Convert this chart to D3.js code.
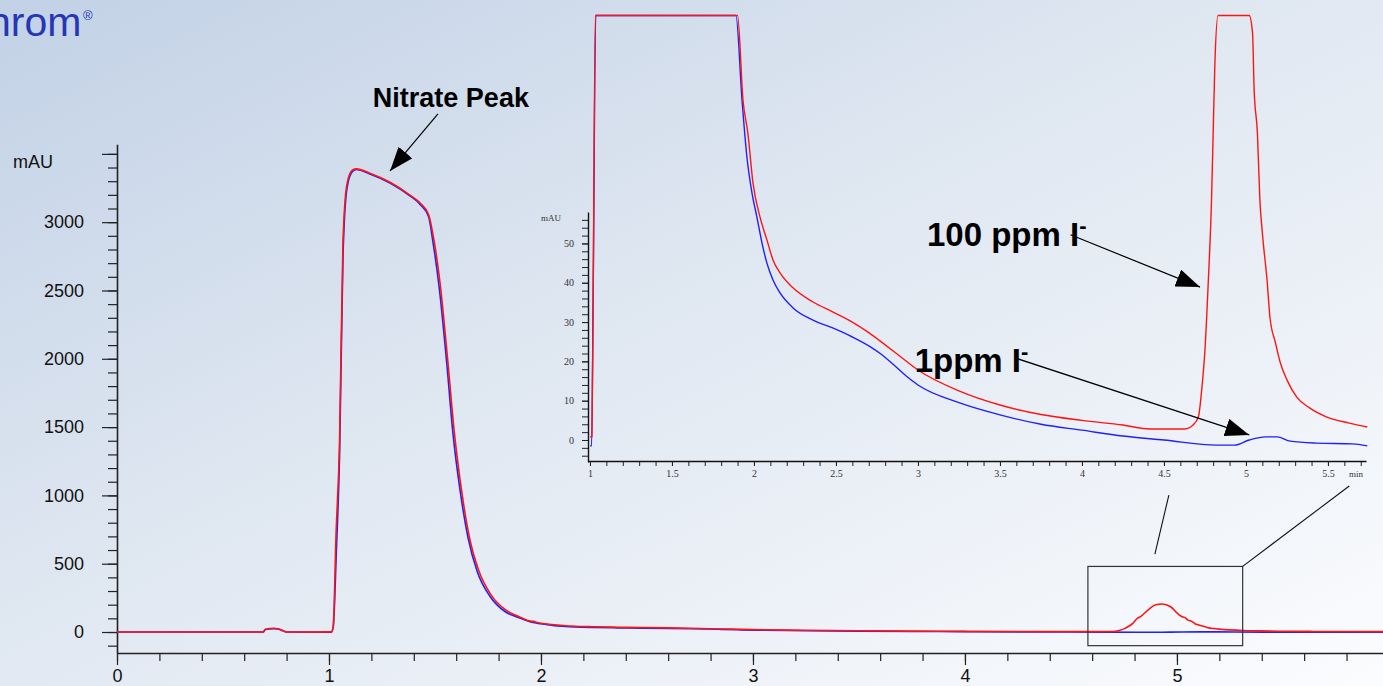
<!DOCTYPE html>
<html>
<head>
<meta charset="utf-8">
<script src="https://cdn.jsdelivr.net/npm/d3@7"></script>
<style>
  html, body { margin: 0; padding: 0; overflow: hidden; }
  svg { display: block; font-family: "Liberation Sans", Arial, sans-serif; }
</style>
</head>
<body>
<svg id="chart"></svg>
<script>
var width = 1383;
var height = 686;

// ---- data (time in min, signal in mAU) ----
var blueTrace = [
  [0, 0], [0.69, 0], [0.70, 18], [0.74, 24], [0.76, 22], [0.79, 4], [0.80, 0],
  [1.00, -1.5], [1.01, -1.5], [1.02, 40], [1.035, 600], [1.05, 1300], [1.066, 2750],
  [1.085, 3250], [1.11, 3370], [1.13, 3385], [1.19, 3355], [1.29, 3285], [1.38, 3195],
  [1.43, 3130], [1.47, 3040], [1.49, 2860], [1.52, 2520], [1.556, 1960], [1.585, 1450],
  [1.62, 1020], [1.656, 690], [1.70, 440], [1.76, 260], [1.83, 150], [1.89, 108],
  [1.927, 86.5], [1.957, 72], [1.988, 62.8], [2.018, 56.7], [2.049, 50.1], [2.079, 45],
  [2.116, 40.7], [2.159, 37.4], [2.238, 33.6], [2.36, 30.5], [2.48, 28.5], [2.60, 26.2],
  [2.71, 23.7], [2.77, 22.0], [2.85, 19.2], [2.93, 16.2], [3.0, 14], [3.25, 9.5], [3.5, 6.4],
  [3.75, 4], [4.0, 2.5], [4.25, 1], [4.5, 0], [4.82, -1.3], [4.93, -1.3], [5.02, 0], [5.12, 0.8],
  [5.19, 0.8], [5.27, -0.3], [5.43, -0.8], [5.65, -1], [5.74, -1.5], [6.0, -1.5]
];
var redTrace = [
  [0, 0], [0.69, 0], [0.70, 20], [0.74, 27], [0.76, 24], [0.79, 5], [0.80, 0],
  [1.00, 0.8], [1.012, 0.8], [1.02, 40], [1.033, 700], [1.05, 1400], [1.066, 2850],
  [1.085, 3280], [1.11, 3380], [1.13, 3390], [1.19, 3360], [1.29, 3290], [1.38, 3200],
  [1.43, 3140], [1.47, 3055], [1.495, 2870], [1.525, 2540], [1.56, 1990], [1.59, 1480],
  [1.625, 1040], [1.66, 710], [1.705, 455], [1.765, 270], [1.835, 160], [1.90, 110],
  [1.933, 86.5], [1.963, 78], [1.994, 65.4], [2.037, 56.7], [2.079, 50.9], [2.116, 45.8],
  [2.159, 42.5], [2.238, 38.7], [2.36, 35.1], [2.48, 32.6], [2.60, 30], [2.70, 27.3],
  [2.80, 24.2], [2.9, 21], [3.0, 17.8], [3.25, 12.5], [3.5, 8.9], [3.75, 6.5], [4.0, 5], [4.25, 3.8],
  [4.415, 2.8], [4.628, 2.8], [4.677, 3.8], [4.71, 5.9], [4.73, 12.7], [4.75, 22.9],
  [4.77, 40], [4.79, 61], [4.80, 78], [4.81, 95], [4.83, 115], [4.87, 170], [4.90, 200],
  [4.93, 205], [4.97, 185], [5.0, 140], [5.02, 115], [5.04, 103.6], [5.05, 89], [5.07, 78],
  [5.085, 61], [5.10, 52.7], [5.13, 40], [5.146, 31.3], [5.18, 24.7], [5.21, 19.6],
  [5.25, 15.3], [5.31, 10.9], [5.39, 8.1], [5.49, 5.9], [5.63, 4.3], [5.74, 3.3], [6.0, 2.5]
];

var mainYMajor = [0, 500, 1000, 1500, 2000, 2500, 3000, 3500];
var mainXMajor = [0, 1, 2, 3, 4, 5];
var insetYMajor = [0, 10, 20, 30, 40, 50];
var insetXMajor = [1, 1.5, 2, 2.5, 3, 3.5, 4, 4.5, 5, 5.5];
var insetCap = 108; // detector display limit of the inset (flat tops)
var zoomBox = { t0: 4.58, t1: 5.31, v0: -100, v1: 480 };

var svg = d3.select("#chart").attr("width", width).attr("height", height);
var defs = svg.append("defs");

// background
var grad = defs.append("linearGradient").attr("id", "bg")
  .attr("x1", 0).attr("y1", 0).attr("x2", 1).attr("y2", 1);
grad.append("stop").attr("offset", "0").attr("stop-color", "#c2d1e6");
grad.append("stop").attr("offset", "0.45").attr("stop-color", "#dfe7f1");
grad.append("stop").attr("offset", "1").attr("stop-color", "#fbfcfe");
svg.append("rect").attr("width", width).attr("height", height).attr("fill", "url(#bg)");

// arrow head
defs.append("marker").attr("id", "head")
  .attr("markerUnits", "userSpaceOnUse")
  .attr("viewBox", "0 -9 24 18")
  .attr("refX", 24).attr("refY", 0)
  .attr("markerWidth", 24).attr("markerHeight", 18)
  .attr("orient", "auto")
  .append("path").attr("d", "M0,-9L24,0L0,9Z").attr("fill", "#000");

// logo fragment (cut at the left edge like the slide)
svg.append("text").attr("x", -12).attr("y", 36)
  .attr("font-size", 41).attr("fill", "#2636b4")
  .text("hrom");
svg.append("text").attr("x", 83).attr("y", 20)
  .attr("font-size", 13).attr("fill", "#2636b4").text("®");

// ---- main chart ----
var x = d3.scaleLinear().domain([0, 5.972]).range([117, 1383]);
var y = d3.scaleLinear().domain([-150, 3570]).range([652.5, 144.3]);

var line = d3.line()
  .curve(d3.curveMonotoneX)
  .x(function(d) { return x(d[0]); })
  .y(function(d) { return y(d[1]); });

// minor ticks
svg.append("g").attr("transform", "translate(117,0)")
  .call(d3.axisLeft(y).tickValues(d3.range(-100, 3501, 100)).tickSize(9).tickFormat(""))
  .call(function(g) { g.select(".domain").remove(); });
svg.append("g").attr("transform", "translate(0,653)")
  .call(d3.axisBottom(x).tickValues(d3.range(0, 5.9, 0.2)).tickSize(8).tickFormat(""))
  .call(function(g) { g.select(".domain").remove(); });

var yAxis = svg.append("g").attr("transform", "translate(117,0)")
  .call(d3.axisLeft(y).tickValues(mainYMajor).tickSize(15).tickSizeOuter(0).tickPadding(18)
    .tickFormat(function(d) { return d === 3500 ? "" : d; }));
var xAxis = svg.append("g").attr("transform", "translate(0,653)")
  .call(d3.axisBottom(x).tickValues(mainXMajor).tickSize(12).tickSizeOuter(0).tickPadding(4)
    .tickFormat(d3.format("d")));

svg.selectAll(".tick line").attr("stroke", "#222").attr("stroke-width", 1.2);
[yAxis, xAxis].forEach(function(a) {
  a.select(".domain").attr("stroke", "#222").attr("stroke-width", 1.6);
  a.selectAll("text").attr("font-size", 18).attr("fill", "#111")
    .attr("font-family", "Liberation Sans, Arial, sans-serif");
});
svg.append("text").attr("x", 13).attr("y", 168).attr("font-size", 18).attr("fill", "#111").text("mAU");

svg.append("path").datum(blueTrace).attr("d", line)
  .attr("fill", "none").attr("stroke", "#1f1fff").attr("stroke-width", 1.6);
svg.append("path").datum(redTrace).attr("d", line)
  .attr("fill", "none").attr("stroke", "#ff1414").attr("stroke-width", 1.6);

// zoom box
svg.append("rect")
  .attr("x", x(zoomBox.t0)).attr("y", y(zoomBox.v1))
  .attr("width", x(zoomBox.t1) - x(zoomBox.t0))
  .attr("height", y(zoomBox.v0) - y(zoomBox.v1))
  .attr("fill", "none").attr("stroke", "#333").attr("stroke-width", 1.2);

// ---- inset chart ----
var ix = d3.scaleLinear().domain([0.988, 5.732]).range([588, 1366]);
var iy = d3.scaleLinear().domain([-5.6, 58]).range([462, 212]);

var iline = d3.line()
  .curve(d3.curveMonotoneX)
  .x(function(d) { return ix(d[0]); })
  .y(function(d) { return iy(Math.min(d[1], insetCap)); });

var inset = svg.append("g").attr("class", "inset");

inset.append("g").attr("transform", "translate(588,0)")
  .call(d3.axisLeft(iy).tickValues(d3.range(-4, 57, 2)).tickSize(6).tickFormat(""))
  .call(function(g) { g.select(".domain").remove(); });
inset.append("g").attr("transform", "translate(0,461)")
  .call(d3.axisBottom(ix).tickValues(d3.range(1, 5.71, 0.1)).tickSize(5).tickFormat(""))
  .call(function(g) { g.select(".domain").remove(); });

var iyAxis = inset.append("g").attr("transform", "translate(588,0)")
  .call(d3.axisLeft(iy).tickValues(insetYMajor).tickSize(6).tickSizeOuter(0).tickPadding(8));
var ixAxis = inset.append("g").attr("transform", "translate(0,461)")
  .call(d3.axisBottom(ix).tickValues(insetXMajor).tickSize(5).tickSizeOuter(0).tickPadding(4)
    .tickFormat(function(d) { return d; }));

inset.selectAll(".tick line").attr("stroke", "#222").attr("stroke-width", 1);
[iyAxis, ixAxis].forEach(function(a) {
  a.select(".domain").attr("stroke", "#111").attr("stroke-width", 1.4);
  a.selectAll("text").attr("font-size", 10).attr("fill", "#333")
    .attr("font-family", "Liberation Serif, Times New Roman, serif");
});
inset.append("text").attr("x", 541).attr("y", 221).attr("font-size", 9)
  .attr("font-family", "Liberation Serif, serif").attr("fill", "#333").text("mAU");
inset.append("text").attr("x", 1349).attr("y", 477).attr("font-size", 9)
  .attr("font-family", "Liberation Serif, serif").attr("fill", "#333").text("min");

var ilines = inset.append("g");
ilines.append("path").datum(blueTrace.filter(function(d) { return d[0] >= 0.99 && d[0] <= 5.74; }))
  .attr("d", iline)
  .attr("fill", "none").attr("stroke", "#1f1fff").attr("stroke-width", 1.4);
ilines.append("path").datum(redTrace.filter(function(d) { return d[0] >= 0.99 && d[0] <= 5.74; }))
  .attr("d", iline)
  .attr("fill", "none").attr("stroke", "#ff1414").attr("stroke-width", 1.4);

// connectors from zoom box to inset
svg.append("line")
  .attr("x1", x(4.896)).attr("y1", y(571))
  .attr("x2", ix(4.53)).attr("y2", iy(-14))
  .attr("stroke", "#111").attr("stroke-width", 1.1);
svg.append("line")
  .attr("x1", x(zoomBox.t1)).attr("y1", y(zoomBox.v1))
  .attr("x2", ix(5.63)).attr("y2", iy(-11.7))
  .attr("stroke", "#111").attr("stroke-width", 1.1);

// ---- annotations ----
svg.append("text").attr("x", x(1.575)).attr("y", y(3843))
  .attr("text-anchor", "middle").attr("font-size", 27).attr("font-weight", "bold")
  .attr("fill", "#000").text("Nitrate Peak");
svg.append("line")
  .attr("x1", x(1.514)).attr("y1", y(3792)).attr("x2", x(1.288)).attr("y2", y(3375))
  .attr("stroke", "#000").attr("stroke-width", 1.2).attr("marker-end", "url(#head)");

var t100 = svg.append("text").attr("x", ix(3.055)).attr("y", iy(49.4))
  .attr("font-size", 33).attr("font-weight", "bold").attr("fill", "#000");
t100.append("tspan").text("100 ppm I");
t100.append("tspan").attr("dy", -13).attr("font-size", 22).text("-");
svg.append("line")
  .attr("x1", ix(3.93)).attr("y1", iy(52.2)).attr("x2", ix(4.72)).attr("y2", iy(38.9))
  .attr("stroke", "#000").attr("stroke-width", 1.2).attr("marker-end", "url(#head)");

var t1 = svg.append("text").attr("x", ix(2.98)).attr("y", iy(17.3))
  .attr("font-size", 33).attr("font-weight", "bold").attr("fill", "#000");
t1.append("tspan").text("1ppm I");
t1.append("tspan").attr("dy", -13).attr("font-size", 22).text("-");
svg.append("line")
  .attr("x1", ix(3.59)).attr("y1", iy(20.9)).attr("x2", ix(5.02)).attr("y2", iy(1.3))
  .attr("stroke", "#000").attr("stroke-width", 1.2).attr("marker-end", "url(#head)");
</script>
</body>
</html>
